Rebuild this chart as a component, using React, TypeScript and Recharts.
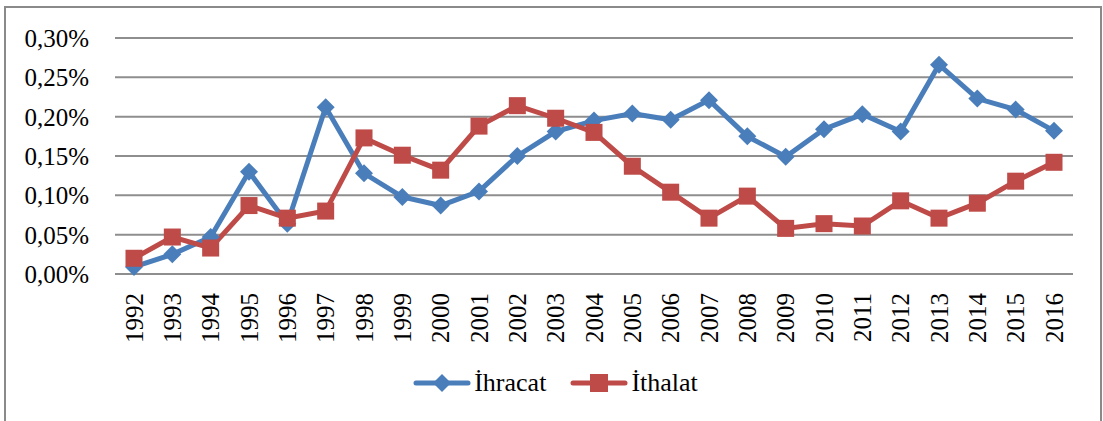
import { LineChart, Line, XAxis, YAxis, CartesianGrid, Legend } from "recharts";

const years = [
  "1992", "1993", "1994", "1995", "1996", "1997", "1998", "1999", "2000",
  "2001", "2002", "2003", "2004", "2005", "2006", "2007", "2008", "2009",
  "2010", "2011", "2012", "2013", "2014", "2015", "2016",
];

// values in percent
const ihracat = [
  0.009, 0.025, 0.047, 0.13, 0.064, 0.212, 0.128, 0.098, 0.087,
  0.105, 0.15, 0.181, 0.195, 0.204, 0.196, 0.221, 0.175, 0.149,
  0.184, 0.203, 0.181, 0.266, 0.223, 0.209, 0.182,
];

const ithalat = [
  0.02, 0.047, 0.033, 0.087, 0.071, 0.08, 0.173, 0.151, 0.132,
  0.188, 0.214, 0.198, 0.18, 0.137, 0.104, 0.071, 0.099, 0.058,
  0.064, 0.061, 0.093, 0.071, 0.09, 0.118, 0.142,
];

const yTicks = [0, 0.05, 0.1, 0.15, 0.2, 0.25, 0.3];

const data = years.map((year, i) => ({
  year,
  ihracat: ihracat[i],
  ithalat: ithalat[i],
}));

const FONT = "'Liberation Serif', 'Times New Roman', serif";
const BLUE = "#4a7ebb";
const RED = "#be4b48";
const GRID = "#8e8e8e";

const fmt = (v: number) => v.toFixed(2).replace(".", ",") + "%";

function Diamond(props: any) {
  const { cx, cy } = props;
  if (cx == null || cy == null) return null;
  const r = 9;
  return (
    <polygon
      points={`${cx},${cy - r} ${cx + r},${cy} ${cx},${cy + r} ${cx - r},${cy}`}
      fill={BLUE}
    />
  );
}

function Square(props: any) {
  const { cx, cy } = props;
  if (cx == null || cy == null) return null;
  const s = 17;
  return <rect x={cx - s / 2} y={cy - s / 2} width={s} height={s} fill={RED} />;
}

function YearTick(props: any) {
  const { x, y, payload } = props;
  return (
    <text
      x={x}
      y={y + 11}
      dy="0.35em"
      transform={`rotate(-90 ${x} ${y + 11})`}
      textAnchor="end"
      fontSize={25}
      style={{ fontFamily: FONT }}
      fill="#000"
    >
      {payload.value}
    </text>
  );
}

function ValueTick(props: any) {
  const { x, y, payload } = props;
  return (
    <text
      x={x}
      y={y}
      dy="0.36em"
      textAnchor="end"
      fontSize={25}
      style={{ fontFamily: FONT }}
      fill="#000"
    >
      {fmt(payload.value)}
    </text>
  );
}

function LegendContent() {
  const items = [
    { name: "İhracat", color: BLUE, kind: "diamond" },
    { name: "İthalat", color: RED, kind: "square" },
  ];
  return (
    <div
      style={{
        display: "flex",
        justifyContent: "center",
        alignItems: "center",
        gap: 24,
        fontFamily: FONT,
        fontSize: 26,
        color: "#000",
        paddingLeft: 8,
      }}
    >
      {items.map((it) => (
        <div key={it.name} style={{ display: "flex", alignItems: "center" }}>
          <svg width={58} height={20} style={{ marginRight: 3 }}>
            <line x1={3} y1={10} x2={55} y2={10} stroke={it.color} strokeWidth={5} strokeLinecap="round" />
            {it.kind === "diamond" ? (
              <polygon points="29,1 38,10 29,19 20,10" fill={it.color} />
            ) : (
              <rect x={20} y={1} width={18} height={18} fill={it.color} />
            )}
          </svg>
          <span>{it.name}</span>
        </div>
      ))}
    </div>
  );
}

export default function App() {
  return (
    <div
      style={{
        position: "absolute",
        left: 0,
        top: 0,
        width: 1103,
        height: 421,
        overflow: "hidden",
        background: "#fff",
      }}
    >
      <div
        style={{
          position: "absolute",
          left: 4,
          top: 6,
          width: 1094,
          height: 430,
          border: "2px solid #8a8a8a",
        }}
      />
      <div style={{ position: "absolute", left: 0, top: 0 }}>
        <LineChart
          width={1103}
          height={421}
          data={data}
          margin={{ top: 38, right: 30, left: 0, bottom: 77 }}
        >
          <CartesianGrid vertical={false} stroke={GRID} strokeWidth={2} />
          <XAxis
            dataKey="year"
            height={70}
            tick={<YearTick />}
            tickLine={false}
            axisLine={{ stroke: GRID, strokeWidth: 2 }}
            interval={0}
            padding={{ left: 19, right: 19 }}
          />
          <YAxis
            width={115}
            domain={[0, 0.3]}
            ticks={yTicks}
            axisLine={false}
            tickLine={false}
            tickMargin={20}
            tick={<ValueTick />}
          />
          <Legend
            layout="horizontal"
            verticalAlign="middle"
            align="center"
            wrapperStyle={{ top: 368, left: 0, width: 1103 }}
            content={<LegendContent />}
          />
          <Line
            dataKey="ihracat"
            name="İhracat"
            stroke={BLUE}
            strokeWidth={5}
            dot={<Diamond />}
            activeDot={false}
            isAnimationActive={false}
          />
          <Line
            dataKey="ithalat"
            name="İthalat"
            stroke={RED}
            strokeWidth={5}
            dot={<Square />}
            activeDot={false}
            isAnimationActive={false}
          />
        </LineChart>
      </div>
    </div>
  );
}
